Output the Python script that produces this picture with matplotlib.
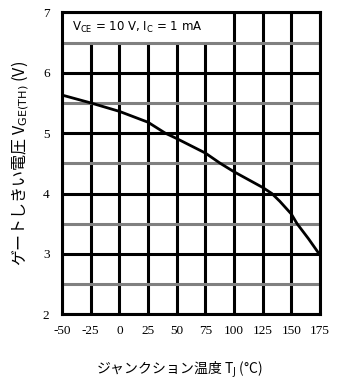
'''Gate threshold voltage vs junction temperature'''

import matplotlib
matplotlib.use('Agg')
import matplotlib.pyplot as plt
from matplotlib.patches import Rectangle

# curve values
temp_c = [-50, -25, 0, 25, 40, 50, 75, 88, 100, 125, 133, 140, 150, 155, 165, 175]
vge_th = [5.63, 5.50, 5.36, 5.18, 5.00, 4.91, 4.67, 4.50, 4.36, 4.10, 4.00, 3.87, 3.66, 3.50, 3.25, 2.98]

x_ticks = [-50, -25, 0, 25, 50, 75, 100, 125, 150, 175]
y_ticks = [2, 3, 4, 5, 6, 7]
y_minor = [2.5, 3.5, 4.5, 5.5, 6.5]

plt.rcParams['axes.unicode_minus'] = False
plt.rcParams['mathtext.fontset'] = 'custom'
plt.rcParams['mathtext.rm'] = 'DejaVu Sans'
plt.rcParams['mathtext.it'] = 'DejaVu Sans'

fig = plt.figure(figsize=(3.46, 3.85), dpi=100)
ax = fig.add_axes([62 / 346, 1 - 314.3 / 385, 258 / 346, 302 / 385])

ax.set_xlim(-50, 175)
ax.set_ylim(2, 7)
ax.set_xticks(x_ticks)
ax.set_yticks(y_ticks)
ax.tick_params(which='both', length=0)
ax.tick_params(axis='x', pad=8)
ax.tick_params(axis='y', pad=9)

# Rejilla dibujada a mano para controlar el orden (zorder)
for xv in x_ticks:
    ax.axvline(xv, color='black', linewidth=2.2, zorder=0.5)
for yv in y_ticks:
    ax.axhline(yv, color='black', linewidth=2.2, zorder=1.5)
for yv in y_minor:
    ax.axhline(yv, color='#808080', linewidth=2.2, zorder=1.5)

for label in ax.get_xticklabels() + ax.get_yticklabels():
    label.set_fontfamily('Liberation Serif')
    label.set_fontsize(9.5)

for spine in ax.spines.values():
    spine.set_linewidth(2.2)
    spine.set_zorder(5)

# white box behind the condition text
ax.add_patch(Rectangle((-50, 6.5), 137, 0.5, facecolor='white',
                       edgecolor='none', zorder=1))
ax.text(-41, 6.75, r'V$_{\mathrm{CE}}$ = 10 V, I$_{\mathrm{C}}$ = 1 mA',
        fontsize=8.5, family=['DejaVu Sans'], va='center', ha='left', zorder=4)

ax.plot(temp_c, vge_th, color='black', linewidth=2.0, zorder=3,
        solid_joinstyle='round')

jp = ['Noto Sans CJK JP', 'DejaVu Sans']
ax.set_xlabel(r'ジャンクション温度 T$_{\mathrm{J}}$ (°C)', family=jp, fontsize=10)
ax.xaxis.set_label_coords(0.457, -0.15)
ax.set_ylabel(r'ゲートしきい電圧 V$_{\mathrm{GE(TH)}}$ (V)', family=jp, fontsize=11.5)
ax.yaxis.set_label_coords(-0.12, 0.5)

fig.savefig('out.png', dpi=100)
